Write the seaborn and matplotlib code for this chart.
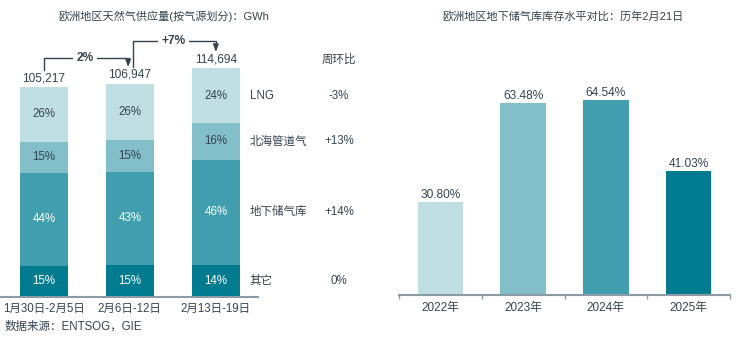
import numpy as np
import pandas as pd
import matplotlib
matplotlib.use("Agg")
import matplotlib.pyplot as plt
import seaborn as sns

# ---------------- data ----------------
periods = ["1月30日-2月5日", "2月6日-12日", "2月13日-19日"]
totals = [105217, 106947, 114694]
sources = ["其它", "地下储气库", "北海管道气", "LNG"]          # bottom -> top
share_other = [15, 15, 14]
share_storage = [44, 43, 46]
share_northsea = [15, 15, 16]
share_lng = [26, 26, 24]
wow_change = ["0%", "+14%", "+13%", "-3%"]                   # per source, bottom -> top
period_changes = ["2%", "+7%"]

years = ["2022年", "2023年", "2024年", "2025年"]
storage_level = [30.80, 63.48, 64.54, 41.03]

# ---------------- style ----------------
sns.set_theme(style="white")
plt.rcParams["font.family"] = ["Liberation Sans", "Noto Sans CJK SC"]
TXT = "#34444f"
AX = "#8c9ca4"
cols = ["#007b8f", "#419eae", "#82bfc9", "#c0dfe3"]          # bottom -> top
seg_txt = ["white", "white", TXT, TXT]

fig = plt.figure(figsize=(7.36, 3.39), dpi=100)

# ---------------- left chart ----------------
axL = fig.add_axes([0.0, 1 - 297 / 339, 258 / 736, 267 / 339])
shares = np.array([share_other, share_storage, share_northsea, share_lng], dtype=float)
shares_n = shares / shares.sum(axis=0)
seg_vals = shares_n * np.array(totals)
cum = np.cumsum(seg_vals, axis=0)
df = pd.DataFrame({"period": periods})
for k in range(3, -1, -1):
    df["v"] = cum[k]
    sns.barplot(data=df, x="period", y="v", color=cols[k], width=0.56,
                saturation=1, ax=axL, edgecolor="none")
axL.set_xlim(-0.51, 2.49)
axL.set_ylim(0, 133800)
axL.set_xlabel("")
axL.set_ylabel("")
axL.set_yticks([])
for s in ["top", "right", "left"]:
    axL.spines[s].set_visible(False)
axL.spines["bottom"].set_color(AX)
axL.spines["bottom"].set_linewidth(1.5)
axL.tick_params(axis="x", length=0, pad=4, labelsize=8.3, colors=TXT)

for i in range(3):
    for k in range(4):
        mid = cum[k, i] - seg_vals[k, i] / 2
        axL.text(i, mid, f"{int(shares[k, i])}%", ha="center", va="center",
                 fontsize=8.3, color=seg_txt[k])
    axL.annotate(f"{totals[i]:,}", (i, totals[i]), xytext=(0, 2),
                 textcoords="offset points", ha="center", va="bottom",
                 fontsize=8.6, color=TXT)

# source labels & week-on-week changes
for k in range(4):
    mid = cum[k, 2] - seg_vals[k, 2] / 2
    axL.text(2.395, mid, sources[k], ha="left", va="center", fontsize=8.3, color=TXT)
    axL.text(3.43, mid, wow_change[k], ha="center", va="center", fontsize=8.3, color=TXT)
axL.text(3.43, 118700, "周环比", ha="center", va="center", fontsize=8.3, color=TXT)

def px2y(p):
    return (297 - p) / 0.001996

LC = "#34444f"
ARW = dict(arrowstyle="-|>,head_length=0.55,head_width=0.2", color=LC, lw=1,
           mutation_scale=8, shrinkA=0, shrinkB=0)
# bracket 1
y1 = px2y(58)
axL.plot([0, 0, 0.98, 0.98], [px2y(70), y1, y1, px2y(61)], color=LC, lw=1, clip_on=False)
axL.annotate("", xy=(0.98, px2y(67)), xytext=(0.98, px2y(60)), arrowprops=ARW,
             annotation_clip=False)
axL.text(0.48, y1, period_changes[0], ha="center", va="center", fontsize=8.6,
         fontweight="bold", color=LC, bbox=dict(fc="white", ec="none", pad=2.5))
# bracket 2
y2 = px2y(41)
axL.plot([1.04, 1.04, 2.0, 2.0], [px2y(67), y2, y2, px2y(46)], color=LC, lw=1, clip_on=False)
axL.annotate("", xy=(2.0, px2y(52)), xytext=(2.0, px2y(45)), arrowprops=ARW,
             annotation_clip=False)
axL.text(1.51, y2, period_changes[1], ha="center", va="center", fontsize=8.6,
         fontweight="bold", color=LC, bbox=dict(fc="white", ec="none", pad=2.5))

# ---------------- right chart ----------------
axR = fig.add_axes([399 / 736, 1 - 295 / 339, 331 / 736, 255 / 339])
dfr = pd.DataFrame({"year": years, "level": storage_level})
sns.barplot(data=dfr, x="year", y="level", hue="year", palette=cols[::-1],
            width=0.55, saturation=1, legend=False, ax=axR, edgecolor="none")
axR.set_xlim(-0.5, 3.5)
axR.set_ylim(0, 84.4)
axR.set_xlabel("")
axR.set_ylabel("")
axR.set_yticks([])
for s in ["top", "right", "left"]:
    axR.spines[s].set_visible(False)
axR.spines["bottom"].set_color(AX)
axR.spines["bottom"].set_linewidth(1.5)
axR.tick_params(axis="x", length=0, pad=5, labelsize=8.5, colors=TXT)
axR.set_xticks(np.arange(-0.5, 4.0, 1.0), minor=True)
axR.tick_params(axis="x", which="minor", bottom=True, length=3, width=1,
                color=AX, direction="out")
for i, v in enumerate(storage_level):
    axR.annotate(f"{v:.2f}%", (i, v), xytext=(0, 1), textcoords="offset points",
                 ha="center", va="bottom", fontsize=8.6, color=TXT)

# ---------------- titles & source ----------------
fig.text(164 / 736, 1 - 16 / 339, "欧洲地区天然气供应量(按气源划分)：GWh",
         ha="center", va="center", fontsize=8, color=TXT)
fig.text(563 / 736, 1 - 16 / 339, "欧洲地区地下储气库库存水平对比：历年2月21日",
         ha="center", va="center", fontsize=8, color=TXT)
fig.text(5 / 736, 1 - 327 / 339, "数据来源：ENTSOG，GIE", ha="left", va="center",
         fontsize=8.3, color=TXT)

fig.savefig("out.png", dpi=100)
